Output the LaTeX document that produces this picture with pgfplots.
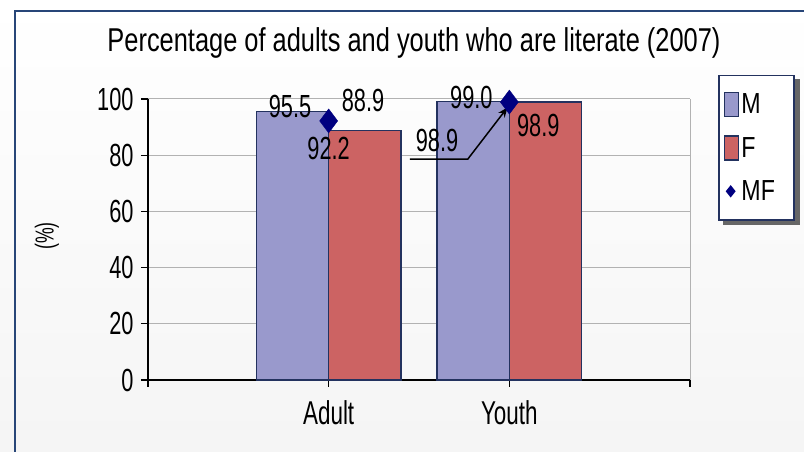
\documentclass[border=0pt]{standalone}
\usepackage{pgfplots}
\pgfplotsset{compat=1.18}
\usepackage{fontspec}
\setmainfont{Liberation Sans}[FakeStretch=0.68]
\newfontfamily\titlefont{Liberation Sans}[FakeStretch=0.77]
\newfontfamily\legfont{Liberation Sans}[FakeStretch=0.8]
\usetikzlibrary{arrows.meta}
\definecolor{mcol}{RGB}{153,153,204}
\definecolor{fcol}{RGB}{204,99,99}
\definecolor{edge}{RGB}{35,50,95}
\definecolor{framec}{RGB}{40,70,120}
\definecolor{mfcol}{RGB}{0,0,128}
\pgfdeclarelayer{back}
\pgfsetlayers{back,main}
\begin{document}
\begin{tikzpicture}[x=1pt,y=1pt]
\path[use as bounding box] (0,0) rectangle (804,452);
\begin{pgfonlayer}{back}
\shade[top color=white, bottom color=black!4] (0,0) rectangle (804,452);
\end{pgfonlayer}
\draw[framec, line width=2.5pt] (15,0) -- (15,441) -- (804,441);
\node at (414,409) {\titlefont\fontsize{33}{34}\selectfont Percentage of adults and youth who are literate (2007)};
\node[rotate=90] at (47,216) {\fontsize{26}{26}\selectfont (\%)};
\begin{axis}[
  at={(148pt,72pt)}, anchor=south west,
  scale only axis, width=542pt, height=281pt,
  xmin=0, xmax=3, ymin=0, ymax=100,
  axis x line*=bottom, axis y line*=left,
  axis line style={black, line width=1.2pt},
  xtick={0,1,2,3}, xticklabels={,Adult,Youth,},
  ytick={0,20,40,60,80,100},
  tick align=outside, major tick length=7pt,
  tick style={black, line width=1.2pt},
  ymajorgrids, grid style={black!30, line width=1pt},
  /pgf/number format/assume math mode=true,
  yticklabel style={font=\fontsize{32}{32}\selectfont, xshift=-4pt},
  xticklabel style={font=\fontsize{33}{33}\selectfont, yshift=-10pt},
  clip=false,
  legend style={name=leg, at={(1.052,1.086)}, anchor=north west, draw=edge, line width=1.5pt,
    fill=white, font=\legfont\fontsize{29}{29}\selectfont, row sep=18pt,
    inner xsep=5pt, inner ysep=16pt},
  legend cell align=left,
]
\draw[black!30, line width=1pt] (axis cs:3,0) -- (axis cs:3,100);
\addplot[ybar, bar width=0.4, bar shift=-0.2, fill=mcol, draw=edge, line width=1.2pt,
  legend image code/.code={\draw[fill=mcol,draw=edge,line width=1.5pt] (0pt,-12pt) rectangle (14pt,12pt);}]
  coordinates {(1,95.5) (2,99.0)};
\addlegendentry{M}
\addplot[ybar, bar width=0.4, bar shift=0.2, fill=fcol, draw=edge, line width=1.2pt,
  legend image code/.code={\draw[fill=fcol,draw=edge,line width=1.5pt] (0pt,-12pt) rectangle (14pt,12pt);}]
  coordinates {(1,88.9) (2,98.9)};
\addlegendentry{F}
\draw[black, line width=1.5pt, -{Stealth[length=10pt,width=8pt]}] (axis cs:1.45,78.6) -- (axis cs:1.77,78.6) -- (axis cs:1.99,97);
\addplot[only marks, mark=diamond*, mark size=12pt, mark options={fill=mfcol, draw=mfcol},
  legend image code/.code={\fill[mfcol] (6pt,5pt) -- (10pt,0pt) -- (6pt,-5pt) -- (2pt,0pt) -- cycle;}]
  coordinates {(1,92.2) (2,98.9)};
\addlegendentry{MF\rule{12pt}{0pt}}
\begin{scope}[font=\fontsize{32}{32}\selectfont]
\node at (axis cs:0.786,97.5) {95.5};
\node at (axis cs:1.19,99.6) {88.9};
\node at (axis cs:1.0,82.5) {92.2};
\node at (axis cs:1.79,100.4) {99.0};
\node at (axis cs:2.16,90.7) {98.9};
\node at (axis cs:1.60,85.4) {98.9};
\end{scope}
\end{axis}
\begin{pgfonlayer}{back}
\fill[black!60] ([xshift=5pt,yshift=-4pt]leg.south west) rectangle ([xshift=5pt,yshift=-4pt]leg.north east);
\end{pgfonlayer}
\end{tikzpicture}
\end{document}
